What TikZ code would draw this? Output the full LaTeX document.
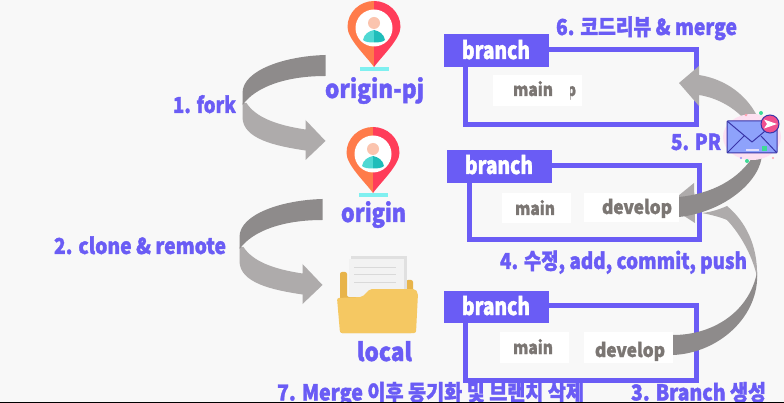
\documentclass[tikz,border=0pt]{standalone}
\usepackage{fontspec}
\usepackage{graphicx}
\setmainfont{Noto Sans CJK KR}[BoldFeatures={FakeBold=1.6}]
\definecolor{bgc}{HTML}{F8F8F8}
\definecolor{ink}{HTML}{6A5CF5}
\definecolor{grayt}{HTML}{7B7673}
\definecolor{darkb}{HTML}{8E8B8B}
\definecolor{lightb}{HTML}{AEABAB}
\definecolor{pinl}{HTML}{FF7B4A}
\definecolor{pinr}{HTML}{FF3D5A}
\definecolor{navy}{HTML}{3A35A8}
\definecolor{skin}{HTML}{FBC4AE}
\definecolor{tealA}{HTML}{4FD8D3}
\definecolor{tealB}{HTML}{1FBDBA}
\definecolor{pinbase}{HTML}{7FF0F0}
\definecolor{foldF}{HTML}{F5C862}
\definecolor{foldB}{HTML}{E8B44A}
\definecolor{envel}{HTML}{8EA2FB}
\definecolor{badge}{HTML}{F0508F}
\definecolor{spark}{HTML}{3DDC97}
\tikzset{
  lab/.style={inner sep=0pt,outer sep=0pt,anchor=base west},
  frameb/.style={draw=ink,line width=5pt,fill=none},
  tabb/.style={fill=ink,draw=none},
  whiteb/.style={fill=white,draw=none},
  pin/.pic={
    \fill[pinl] (0,66) .. controls (-8,55) and (-26.5,38) .. (-26.5,26) .. controls (-26.5,11) and (-14,0) .. (0,0) -- cycle;
    \fill[pinr] (0,66) .. controls (8,55) and (26.5,38) .. (26.5,26) .. controls (26.5,11) and (14,0) .. (0,0) -- cycle;
    \fill[white] (0,27) circle[radius=18.5];
    \fill[skin] (0,22) circle[radius=6];
    \fill[tealA] (-11,39) .. controls (-10,33) and (-5,30) .. (0,29) -- (0,41.5) .. controls (-5,41.5) and (-9,41) .. (-11,39) -- cycle;
    \fill[tealB] (11,39) .. controls (10,33) and (5,30) .. (0,29) -- (0,41.5) .. controls (5,41.5) and (9,41) .. (11,39) -- cycle;
    \fill[pinbase] (-14.5,66) rectangle (14.5,70.5);
  },
  ribbon/.pic={
    \fill[lightb] (-83,48) -- (-79,48) .. controls (-70,62) and (-50,70) .. (-20,74.5) -- (-20,65) -- (0,86) -- (-20,105) -- (-20,95.5) .. controls (-50,91) and (-83,84) .. (-83,62) -- cycle;
    \fill[darkb] (0,0) .. controls (-40,1) and (-83,15) .. (-83,38) -- (-83,50) .. controls (-70,32) and (-40,21) .. (0,21) -- cycle;
  }
}
\newcommand{\lbl}[7]{\node[lab,text=#7] (#1) at (#2,#3) {\resizebox{#4pt}{\height}{\fontsize{#5pt}{#5pt}\selectfont\bfseries #6}};}
\begin{document}
\begin{tikzpicture}[x=1pt,y=-1pt]
\useasboundingbox (0,0) rectangle (784,403);
\fill[bgc] (0,0) rectangle (784,403);
% pins and folder
\pic at (374,1) {pin};
\pic at (373,127) {pin};
% left ribbons
\pic at (325.5,55) {ribbon};
\pic at (322.5,199) {ribbon};
% folder
\fill[rounded corners=2pt,fill=foldB] (340,333) -- (340,272) -- (347,272) -- (347,297) -- (406,297) -- (406,280) -- (413,280) -- (413,333) -- cycle;
\fill[black!12] (351,256) rectangle (407,297);
\fill[black!5] (349,259) rectangle (404,297);
\foreach \yy in {267,274,282} \fill[black!15] (354,\yy) rectangle (396,\yy+1.5);
\fill[rounded corners=2pt,fill=foldF] (337,298) -- (362,297) -- (370,289) -- (415,289) -- (418,293) -- (416,333) -- (340,333) -- cycle;
% frames
\draw[frameb] (465.5,49.5) rectangle (696.5,124.5);
\draw[frameb] (469.5,165.5) rectangle (699.5,239.5);
\draw[frameb] (465.5,305.5) rectangle (696.5,380.5);
\fill[tabb] (444,34) rectangle (549,67);
\fill[tabb] (447,150) rectangle (552,183);
\fill[tabb] (444,291) rectangle (549,323);
% arrow 3, light part
\fill[lightb] (702,213) .. controls (712,212) and (720,209) .. (727,206) .. controls (745,221) and (758,245) .. (757,277) .. controls (753,258) and (742,236) .. (727,220) .. controls (720,217) and (712,215) .. (702,213) -- cycle;
% PR arrow
\fill[lightb] (694,183) -- (667,205) -- (695,223) -- cycle;
\fill[darkb] (679,197) .. controls (710,194) and (740,180) .. (755,153) -- (762,153) .. controls (762,180) and (725,212) .. (679,217) -- cycle;
% white boxes
\fill[whiteb] (493,75) rectangle (582,106);
\fill[whiteb] (502,193) rectangle (571,223);
\fill[whiteb] (584,193) rectangle (679,222);
\fill[whiteb] (500,332) rectangle (569,363);
\fill[whiteb] (584,332) rectangle (673,363);
% arrow 3, dark part
\fill[darkb] (673,335) .. controls (715,335) and (750,310) .. (757,272) .. controls (760,315) and (720,353) .. (673,355) -- cycle;
% arrow 6
\fill[lightb] (679,83) -- (699,66) -- (699,75) .. controls (725,79) and (748,95) .. (759,120) -- (747,122) .. controls (735,108) and (718,98) .. (699,95) -- (699,106) -- cycle;
% envelope
\fill[magenta!12!white] (752,137) ellipse[x radius=29,y radius=23];
\fill[envel,draw=navy,line width=1pt,rounded corners=1pt] (727,121) rectangle (777,153);
\draw[navy,line width=1pt,line join=round] (727,121) -- (752,142) -- (777,121);
\draw[navy,line width=1pt] (727,153) -- (744,136);
\draw[navy,line width=1pt] (777,153) -- (761,136);
\fill[white!80!ink] (746,149) rectangle (759,151);
\fill[spark] (762,146) rectangle (767,151);
\fill[badge,draw=navy,line width=1pt] (770,124) circle[radius=9];
\fill[white] (764,119.5) -- (777,124) -- (764,128.5) -- (767,124) -- cycle;
\fill[spark] (761,113) circle[radius=2];
\fill[spark] (747,161) circle[radius=2];
\fill[pinr!50!white] (746,115) circle[radius=1.3];
\fill[ink!70!white] (741,158) circle[radius=1.2];
\fill[pinr!50!white] (773,158) circle[radius=1.2];
% texts
\lbl{tone}{173}{113}{63}{22}{1. fork}{ink}
\lbl{npj}{325}{98}{99}{25}{origin-pj}{ink}
\lbl{norigin}{341}{222}{65}{25}{origin}{ink}
\lbl{ttwo}{54}{254}{172}{22}{2. clone \& remote}{ink}
\lbl{nlocal}{357}{361}{55}{25}{local}{ink}
\lbl{tseven}{277}{400.5}{307}{22}{7. Merge 이후 동기화 및 브랜치 삭제}{ink}
\lbl{tthree}{631}{400.5}{135}{22}{3. Branch 생성}{ink}
\lbl{tfour}{500}{269}{247}{22}{4. 수정, add, commit, push}{ink}
\lbl{tfive}{671}{150}{50}{22}{5. PR}{ink}
\lbl{tsix}{556}{35}{181}{22}{6. 코드리뷰 \& merge}{ink}
\lbl{ba}{462}{59}{68}{24}{branch}{white}
\lbl{bb}{465}{174}{68}{24}{branch}{white}
\lbl{bc}{462}{315}{68}{24}{branch}{white}
\lbl{ptext}{567}{96}{9}{17}{p}{grayt}
\fill[whiteb] (555,75) rectangle (569.5,106);
\lbl{ma}{513}{96}{40}{18}{main}{grayt}
\lbl{mb}{515}{215}{40}{18}{main}{grayt}
\lbl{mc}{513}{354}{40}{18}{main}{grayt}
\lbl{da}{602}{214}{70}{19}{develop}{grayt}
\lbl{db}{595}{357}{70}{19}{develop}{grayt}
% bottom edge
\fill[black] (0,401.7) rectangle (784,403);
\end{tikzpicture}
\end{document}
